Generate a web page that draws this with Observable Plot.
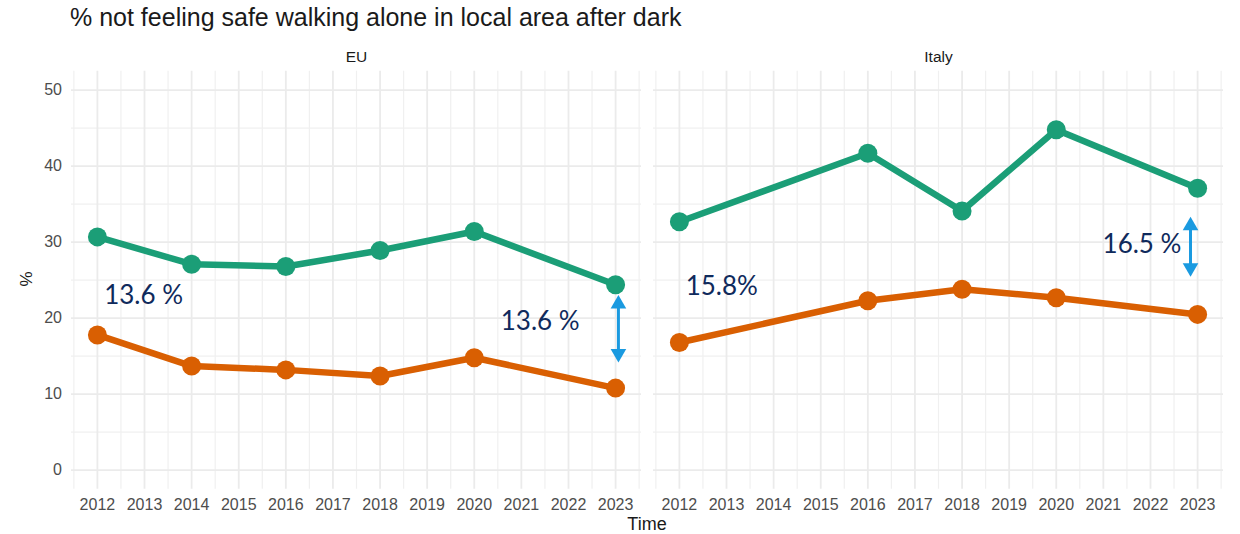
<!DOCTYPE html>
<html>
<head>
<meta charset="utf-8">
<script src="https://cdn.jsdelivr.net/npm/d3@7"></script>
<script src="https://cdn.jsdelivr.net/npm/@observablehq/plot@0.6"></script>
<style>
  body { margin: 0; background: #ffffff; }
  #wrap { position: relative; width: 1240px; height: 534px; overflow: hidden; }
  #title { position: absolute; left: 70px; top: 3px; font: 25px "Liberation Sans", Arial, sans-serif; color: #1a1a1a; white-space: nowrap; }
  #ylab { position: absolute; left: 27px; top: 279px; transform: translate(-50%, -50%) rotate(-90deg); font: 17px "Liberation Sans", Arial, sans-serif; color: #1a1a1a; }
  #xlab { position: absolute; left: 647px; top: 524px; transform: translate(-50%, -50%); font: 18px "Liberation Sans", Arial, sans-serif; color: #1a1a1a; }
  #chart { position: absolute; left: 0; top: 0; }
</style>
</head>
<body>
<div id="wrap">
  <div id="chart"></div>
  <div id="title">% not feeling safe walking alone in local area after dark</div>
  <div id="ylab">%</div>
  <div id="xlab">Time</div>
</div>
<script>
// ---- data ----
const panels = ["EU", "Italy"];

const euYears = [2012, 2014, 2016, 2018, 2020, 2023];
const euUpper = [30.7, 27.1, 26.8, 28.9, 31.4, 24.4];
const euLower = [17.8, 13.7, 13.2, 12.4, 14.8, 10.8];

const itYears = [2012, 2016, 2018, 2020, 2023];
const itUpper = [32.7, 41.7, 34.1, 44.8, 37.1];
const itLower = [16.8, 22.3, 23.8, 22.7, 20.5];

const xTicks = [2012, 2013, 2014, 2015, 2016, 2017, 2018, 2019, 2020, 2021, 2022, 2023];
const xMinor = [2011.5, 2012.5, 2013.5, 2014.5, 2015.5, 2016.5, 2017.5, 2018.5, 2019.5, 2020.5, 2021.5, 2022.5, 2023.5];
const yTicks = [0, 10, 20, 30, 40, 50];
const yMinor = [5, 15, 25, 35, 45];

const notePanel = ["EU", "EU", "Italy", "Italy"];
const noteX = [2012.98, 2021.4, 2012.9, 2021.82];
const noteY = [23.0, 19.6, 24.2, 29.7];
const noteText = ["13.6 %", "13.6 %", "15.8%", "16.5 %"];

const arrowPanel = ["EU", "Italy"];
const arrowX = [2023.06, 2022.85];
const arrowTop = [23.0, 33.3];
const arrowBottom = [14.2, 25.5];

// ---- build tables ----
const rows = [];
euYears.forEach((yr, i) => {
  rows.push({panel: "EU", year: yr, value: euUpper[i], group: "upper"});
});
euYears.forEach((yr, i) => {
  rows.push({panel: "EU", year: yr, value: euLower[i], group: "lower"});
});
itYears.forEach((yr, i) => {
  rows.push({panel: "Italy", year: yr, value: itUpper[i], group: "upper"});
});
itYears.forEach((yr, i) => {
  rows.push({panel: "Italy", year: yr, value: itLower[i], group: "lower"});
});
const notes = noteText.map((t, i) => ({panel: notePanel[i], x: noteX[i], y: noteY[i], text: t}));
const arrows = arrowPanel.map((p, i) => ({panel: p, x: arrowX[i], top: arrowTop[i], bottom: arrowBottom[i]}));

const arrowColor = "#1a9ae0";
const axisColor = "#4d4d4d";

const chart = Plot.plot({
  width: 1240,
  height: 534,
  marginTop: 70.7,
  marginBottom: 45.3,
  marginLeft: 70.5,
  marginRight: 17,
  style: {background: "transparent", fontFamily: "'Liberation Sans', Arial, sans-serif", overflow: "visible"},
  x: {domain: [2011.45, 2023.55]},
  y: {domain: [-2.5, 52.5]},
  fx: {domain: panels, paddingInner: 0.0206, paddingOuter: 0, axis: null},
  color: {domain: ["upper", "lower"], range: ["#1b9e77", "#d95f02"]},
  marks: [
    Plot.gridX(xMinor, {stroke: "#f0f0f0", strokeWidth: 1.2, strokeOpacity: 1}),
    Plot.gridY(yMinor, {stroke: "#f0f0f0", strokeWidth: 1.2, strokeOpacity: 1}),
    Plot.gridX(xTicks, {stroke: "#ebebeb", strokeWidth: 1.8, strokeOpacity: 1}),
    Plot.gridY(yTicks, {stroke: "#ebebeb", strokeWidth: 1.8, strokeOpacity: 1}),
    Plot.axisX(xTicks, {tickSize: 0, tickPadding: 9.5, tickFormat: d => String(d), fontSize: 16, color: axisColor, label: null}),
    Plot.axisY(yTicks, {tickSize: 0, tickPadding: 9.5, fontSize: 16, color: axisColor, label: null}),
    Plot.text(panels, {fx: d => d, text: d => d, frameAnchor: "top", dy: -13.7, lineAnchor: "middle", fontSize: 15.5, fill: "#1a1a1a"}),
    Plot.line(rows, {x: "year", y: "value", z: "group", stroke: "group", strokeWidth: 6.5, fx: "panel"}),
    Plot.dot(rows, {x: "year", y: "value", fill: "group", r: 9.5, fx: "panel"}),
    Plot.text(notes, {x: "x", y: "y", text: "text", fx: "panel", fontSize: 26, fill: "#0f2a5c", fontFamily: "Lato, 'Open Sans', sans-serif"}),
    Plot.ruleX(arrows, {x: "x", y1: "top", y2: "bottom", fx: "panel", stroke: arrowColor, strokeWidth: 3, insetTop: 10, insetBottom: 10}),
    Plot.dot(arrows, {x: "x", y: "top", fx: "panel", symbol: "triangle", r: 5.8, fill: arrowColor, stroke: "none", dy: 8.7}),
    Plot.dot(arrows, {x: "x", y: "bottom", fx: "panel", symbol: "triangle", r: 5.8, fill: arrowColor, stroke: "none", rotate: 180, dy: -8.7})
  ]
});
document.getElementById("chart").appendChild(chart);
</script>
</body>
</html>
